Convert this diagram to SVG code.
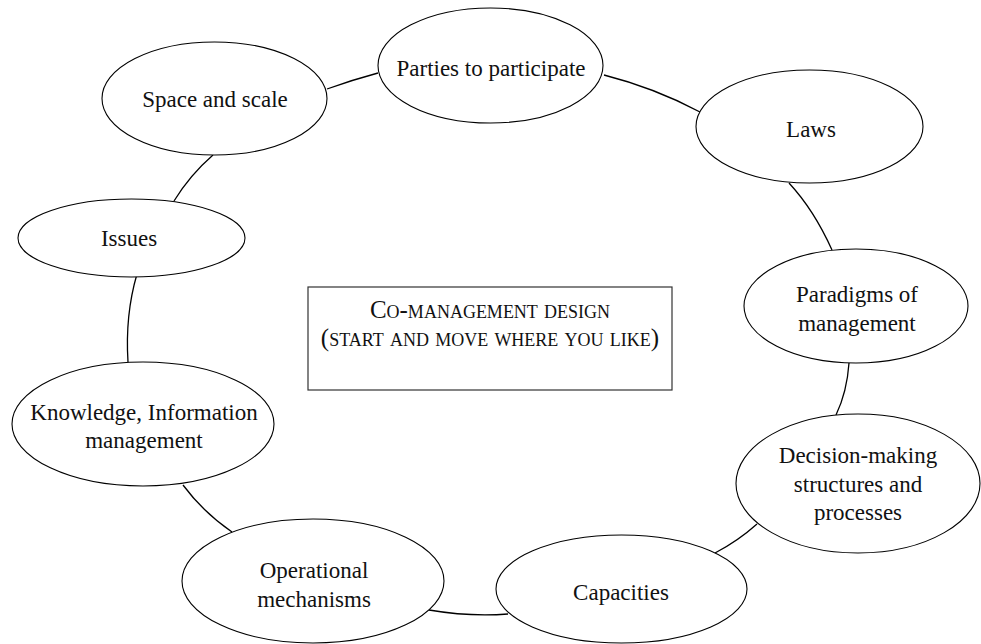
<svg xmlns="http://www.w3.org/2000/svg" width="981" height="644" viewBox="0 0 981 644">
  <style>
    .node ellipse { fill: #ffffff; stroke: #000000; stroke-width: 1.1; }
    .node text { font-family: "Liberation Serif", "Times New Roman", serif; font-size: 23px; fill: #111111; text-anchor: middle; }
    .links path { fill: none; stroke: #000000; stroke-width: 1.3; }
    .title rect { fill: #ffffff; stroke: #333333; stroke-width: 1.2; }
    .title text { font-family: "Liberation Serif", "Times New Roman", serif; font-size: 25px; font-variant: small-caps; fill: #111111; text-anchor: middle; }
  </style>
  <rect width="981" height="644" fill="#ffffff"/>

  <!-- connectors around the ring -->
  <g class="links" id="connectors">
    <path d="M327,89 Q352,80 378,73"/>
    <path d="M604,75 Q655,88 700,112"/>
    <path d="M789,183 Q814,210 832,250"/>
    <path d="M849,363 Q847,392 836,415"/>
    <path d="M757,524 Q738,541 715,553"/>
    <path d="M508,614 Q470,617 429,610"/>
    <path d="M232,532 Q203,512 183,485"/>
    <path d="M128,362 Q125,315 137,274"/>
    <path d="M213,155 Q190,175 174,201"/>
  </g>

  <g class="title" id="centre-box">
    <rect x="308" y="287" width="364" height="103"/>
    <text x="490" y="318">Co-management design</text>
    <text x="490" y="346">(start and move where you like)</text>
  </g>

  <g class="node" id="space-scale">
    <ellipse cx="214.5" cy="98.5" rx="112.5" ry="56.5"/>
    <text x="215" y="107">Space and scale</text>
  </g>

  <g class="node" id="parties">
    <ellipse cx="490.5" cy="65.5" rx="112.5" ry="57.5"/>
    <text x="491" y="76">Parties to participate</text>
  </g>

  <g class="node" id="laws">
    <ellipse cx="809.5" cy="126.5" rx="113.5" ry="56.5"/>
    <text x="811" y="137">Laws</text>
  </g>

  <g class="node" id="paradigms">
    <ellipse cx="856" cy="306" rx="112" ry="57"/>
    <text x="857" y="302">Paradigms of</text>
    <text x="857" y="331">management</text>
  </g>

  <g class="node" id="decision-making">
    <ellipse cx="858" cy="483.5" rx="122" ry="69.5"/>
    <text x="858" y="463">Decision-making</text>
    <text x="858" y="492">structures and</text>
    <text x="858" y="520">processes</text>
  </g>

  <g class="node" id="capacities">
    <ellipse cx="621.5" cy="589" rx="125.5" ry="54"/>
    <text x="621" y="600">Capacities</text>
  </g>

  <g class="node" id="operational">
    <ellipse cx="313" cy="581" rx="131" ry="62"/>
    <text x="314" y="578">Operational</text>
    <text x="314" y="607">mechanisms</text>
  </g>

  <g class="node" id="knowledge">
    <ellipse cx="143" cy="424" rx="131" ry="62"/>
    <text x="144" y="420">Knowledge, Information</text>
    <text x="144" y="448">management</text>
  </g>

  <g class="node" id="issues">
    <ellipse cx="131.5" cy="238" rx="113.5" ry="39"/>
    <text x="129" y="246">Issues</text>
  </g>
</svg>
